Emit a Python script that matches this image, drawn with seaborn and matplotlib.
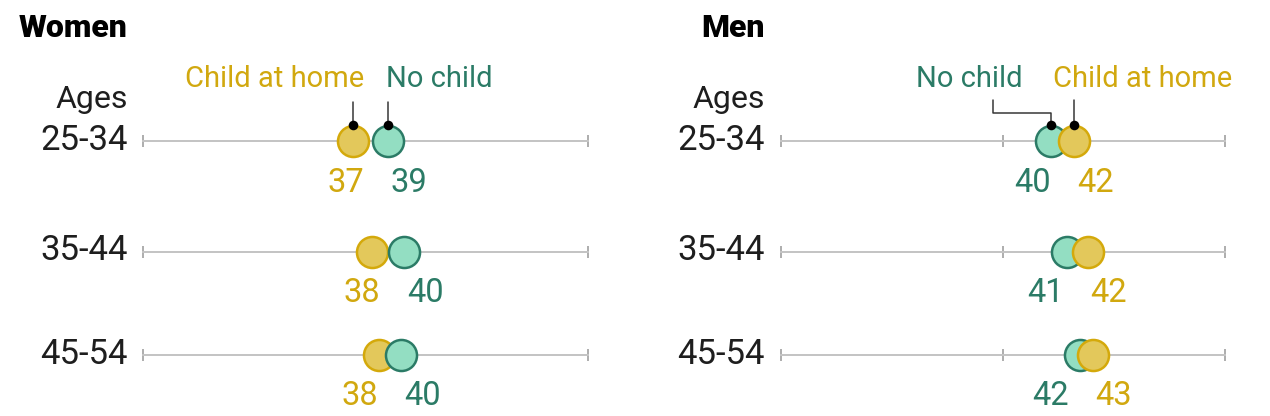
import matplotlib
matplotlib.use("Agg")
import matplotlib.pyplot as plt
import seaborn as sns
import pandas as pd

# ---------------- data ----------------
ages = ["25-34", "35-44", "45-54"]
groups = ["Child at home", "No child"]
women_child = [36.78, 37.88, 38.28]
women_nochild = [38.78, 39.67, 39.52]
men_nochild = [40.21, 41.10, 41.85]
men_child = [41.51, 42.28, 42.55]
axis_range = [25, 50]
axis_ticks = [25, 37.5, 50]
panel_titles = ["Women", "Men"]

# ---------------- style ----------------
sns.set_theme(style="white")
plt.rcParams["font.family"] = ["Roboto", "DejaVu Sans"]

W, H, DPI = 1270, 416, 100
PT = 72 / DPI  # points per pixel

fill = {"Child at home": "#E3C85B", "No child": "#93DEC2"}
edge = {"Child at home": "#D4A90B", "No child": "#2B7B66"}
txt = {"Child at home": "#D1A80F", "No child": "#2B7B66"}
ink = "#1E1E1E"

panels = [
    pd.DataFrame({"age": ages * 2,
                  "group": [groups[0]] * 3 + [groups[1]] * 3,
                  "value": women_child + women_nochild}),
    pd.DataFrame({"age": ages * 2,
                  "group": [groups[0]] * 3 + [groups[1]] * 3,
                  "value": men_child + men_nochild}),
]

fig = plt.figure(figsize=(W / DPI, H / DPI), dpi=DPI)

axis_left_px = [143.3, 780.6]
axis_width_px = 444.4
row_y_px = [141, 251.5, 354.5]
row_h_px = 100


def add_text(ax, s, x, dx_px, dy_px, **kw):
    ax.annotate(s, xy=(x, 0), xytext=(dx_px * PT, dy_px * PT),
                textcoords="offset points", annotation_clip=False, **kw)


for p, df in enumerate(panels):
    left = axis_left_px[p]
    px_per_unit = axis_width_px / (axis_range[1] - axis_range[0])
    # panel title
    fig.text((left - 15.5) / W, 1 - 37 / H, panel_titles[p], ha="right",
             va="baseline", fontsize=23, fontweight="heavy", color="black")
    for r, age in enumerate(ages):
        yc = row_y_px[r]
        ax = fig.add_axes([left / W, (H - yc - row_h_px / 2) / H,
                           axis_width_px / W, row_h_px / H])
        ax.set_facecolor("none")
        ax.set_xlim(*axis_range)
        ax.set_ylim(-row_h_px / 2, row_h_px / 2)
        for s in ["left", "right", "top"]:
            ax.spines[s].set_visible(False)
        ax.spines["bottom"].set_position(("data", 0))
        ax.spines["bottom"].set_color("#C4C4C4")
        ax.spines["bottom"].set_linewidth(2 * PT)
        ax.set_xticks(axis_ticks)
        ax.set_yticks([])
        ax.tick_params(axis="x", direction="inout", length=12 * PT,
                       width=1.6 * PT, color="#9C9C9C", labelbottom=False,
                       bottom=True)

        sub = df[df["age"] == age].sort_values("value").assign(y=0.0)
        for _, row in sub.iterrows():
            one = sub[sub["group"] == row["group"]]
            sns.scatterplot(data=one, x="value", y="y", ax=ax,
                            color=fill[row["group"]],
                            edgecolor=edge[row["group"]],
                            linewidth=2.5 * PT, s=500, zorder=3,
                            legend=False, clip_on=False)
        ax.set_xlabel("")
        ax.set_ylabel("")

        lo, hi = sub.iloc[0], sub.iloc[1]
        # value labels
        add_text(ax, f"{hi['value']:.0f}", hi["value"], 21, -50.5,
                 ha="center", va="baseline", fontsize=23.5,
                 color=txt[hi["group"]])
        add_text(ax, f"{lo['value']:.0f}", hi["value"], 21 - 63, -50.5,
                 ha="center", va="baseline", fontsize=23.5,
                 color=txt[lo["group"]])
        # row label
        add_text(ax, age, axis_range[0], -15.5, -9, ha="right",
                 va="baseline", fontsize=25, color=ink)

        if r == 0:
            add_text(ax, "Ages", axis_range[0], -15.5, 33, ha="right",
                     va="baseline", fontsize=23, color=ink)
            top = 40
            dot_y = 16.5
            for _, pt in sub.iterrows():
                g = pt["group"]
                xv = pt["value"]
                if p == 1 and g == "No child":
                    elbow_dx = -58 / px_per_unit
                    ax.plot([xv, xv, xv + elbow_dx, xv + elbow_dx],
                            [dot_y, 27.7, 27.7, top + 1], color="#333333",
                            lw=1.5 * PT, zorder=4, clip_on=False)
                else:
                    ax.plot([xv, xv], [dot_y, top + (1 if p == 1 else -0.7)],
                            color="#333333", lw=1.5 * PT, zorder=4,
                            clip_on=False)
                ax.scatter([xv], [dot_y], s=48, color="black", zorder=5,
                           clip_on=False, linewidths=0)
            # legend-style labels
            c = sub[sub["group"] == "Child at home"].iloc[0]["value"]
            n = sub[sub["group"] == "No child"].iloc[0]["value"]
            if p == 0:
                add_text(ax, "Child at home", c, 12, 54, ha="right",
                         va="baseline", fontsize=21, color=txt["Child at home"])
                add_text(ax, "No child", n, -2, 54, ha="left",
                         va="baseline", fontsize=21, color=txt["No child"])
            else:
                add_text(ax, "No child", n, -28, 54, ha="right",
                         va="baseline", fontsize=21, color=txt["No child"])
                add_text(ax, "Child at home", c, -21, 54, ha="left",
                         va="baseline", fontsize=21, color=txt["Child at home"])

fig.savefig("out.png", dpi=DPI, facecolor="white")
